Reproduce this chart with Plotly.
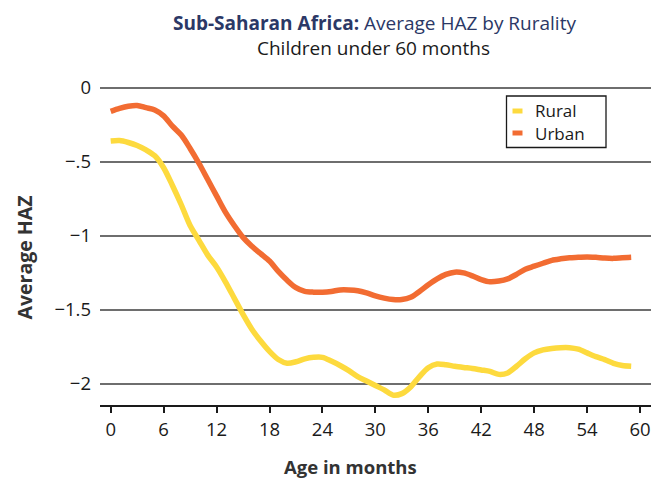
import plotly.graph_objects as go

months = list(range(0, 60))
urban = [-0.16, -0.14, -0.125, -0.12, -0.135, -0.15, -0.19, -0.26, -0.32, -0.41,
         -0.51, -0.62, -0.73, -0.84, -0.93, -1.01, -1.07, -1.12, -1.17, -1.24,
         -1.30, -1.35, -1.375, -1.38, -1.38, -1.375, -1.365, -1.365, -1.37, -1.385,
         -1.405, -1.42, -1.43, -1.43, -1.415, -1.375, -1.33, -1.29, -1.26, -1.245,
         -1.25, -1.27, -1.295, -1.31, -1.305, -1.29, -1.26, -1.225, -1.205, -1.185,
         -1.165, -1.155, -1.148, -1.145, -1.142, -1.145, -1.15, -1.152, -1.148, -1.145]
rural = [-0.36, -0.357, -0.37, -0.39, -0.42, -0.46, -0.54, -0.66, -0.79, -0.93,
         -1.03, -1.13, -1.21, -1.31, -1.42, -1.53, -1.63, -1.71, -1.78, -1.835,
         -1.86, -1.85, -1.83, -1.82, -1.82, -1.845, -1.875, -1.91, -1.95, -1.98,
         -2.01, -2.04, -2.075, -2.065, -2.02, -1.95, -1.89, -1.865, -1.87, -1.88,
         -1.888, -1.895, -1.905, -1.915, -1.935, -1.925, -1.88, -1.83, -1.79, -1.77,
         -1.76, -1.755, -1.755, -1.765, -1.79, -1.815, -1.835, -1.86, -1.875, -1.88]

x_ticks = [0, 6, 12, 18, 24, 30, 36, 42, 48, 54, 60]
y_ticks = [0, -0.5, -1, -1.5, -2]
y_tick_labels = ["0", "\u2212.5", "\u22121", "\u22121.5", "\u22122"]
series_names = ["Rural", "Urban"]
colors = ["#FDDA3E", "#F26C32"]

FONT = "Open Sans"
TXT = "#1a1a1a"

# Page body margin is removed by post_script, so figure pixels == page pixels.
W, H = 654, 483
L, R, T, B = 100, 3, 86, 78
PW, PH = W - L - R, H - T - B


def px_x(p):
    """page pixel x -> paper x"""
    return (p - L) / PW


def px_y(p):
    """page pixel y -> paper y"""
    return (H - B - p) / PH


fig = go.Figure()
for name, vals, col in zip(series_names, [rural, urban], colors):
    fig.add_trace(go.Scatter(x=months, y=vals, mode="lines", name=name,
                             line=dict(color=col, width=5.5, shape="spline", smoothing=0.8),
                             showlegend=False))

fig.update_layout(
    width=W, height=H,
    margin=dict(l=L, r=R, t=T, b=B, autoexpand=False),
    plot_bgcolor="white", paper_bgcolor="white",
    font=dict(family=FONT, size=18, color=TXT),
    xaxis=dict(range=[-1.213, 61.245], tickvals=x_ticks, ticks="outside", ticklen=6,
               tickwidth=1.5, tickcolor=TXT, showline=True, linecolor=TXT, linewidth=1.5,
               showgrid=False, zeroline=False, ticklabelstandoff=1,
               tickfont=dict(size=18.5, family=FONT, color=TXT)),
    yaxis=dict(range=[-2.1417, 0.0115], tickvals=y_ticks, ticktext=y_tick_labels,
               showgrid=True, gridcolor="#6e6e6e", gridwidth=1.5, zeroline=False,
               showline=False, ticks="", ticklabelstandoff=8,
               tickfont=dict(size=18.5, family=FONT, color=TXT)),
)

# Titles
fig.add_annotation(text="<b>Sub-Saharan Africa:</b> Average HAZ by Rurality",
                   x=px_x(374.5), y=px_y(22.5), xref="paper", yref="paper", showarrow=False,
                   xanchor="center", yanchor="middle",
                   font=dict(size=19, color="#2B3866", family=FONT))
fig.add_annotation(text="Children under 60 months",
                   x=px_x(373.5), y=px_y(47.5), xref="paper", yref="paper", showarrow=False,
                   xanchor="center", yanchor="middle",
                   font=dict(size=19, color=TXT, family=FONT))
# Axis titles
fig.add_annotation(text="<b>Age in months</b>",
                   x=px_x(350), y=px_y(467), xref="paper", yref="paper", showarrow=False,
                   xanchor="center", yanchor="middle",
                   font=dict(size=18.5, color="#333333", family=FONT))
fig.add_annotation(text="<b>Average HAZ</b>", textangle=-90,
                   x=px_x(24), y=px_y(257.5), xref="paper", yref="paper", showarrow=False,
                   xanchor="center", yanchor="middle",
                   font=dict(size=19.5, color="#333333", family=FONT))

# Legend: box, swatches, labels
fig.add_shape(type="rect", xref="paper", yref="paper",
              x0=px_x(506.5), x1=px_x(606), y0=px_y(147.5), y1=px_y(96),
              line=dict(color=TXT, width=1.3), fillcolor="white")
for i, (name, col) in enumerate(zip(series_names, colors)):
    yc = 111 + i * 22
    fig.add_shape(type="line", xref="paper", yref="paper",
                  x0=px_x(512.5), x1=px_x(522.5), y0=px_y(yc), y1=px_y(yc),
                  line=dict(color=col, width=5))
    fig.add_annotation(text=name, xref="paper", yref="paper", x=px_x(534), y=px_y(yc),
                       xanchor="left", yanchor="middle", showarrow=False, borderpad=0,
                       font=dict(size=17, family=FONT, color=TXT))

fig.write_html(
    "out.html",
    config={"displayModeBar": False},
    post_script="document.body.style.margin='0';"
                "document.documentElement.style.overflow='hidden';"
                "document.body.style.overflow='hidden';",
)
